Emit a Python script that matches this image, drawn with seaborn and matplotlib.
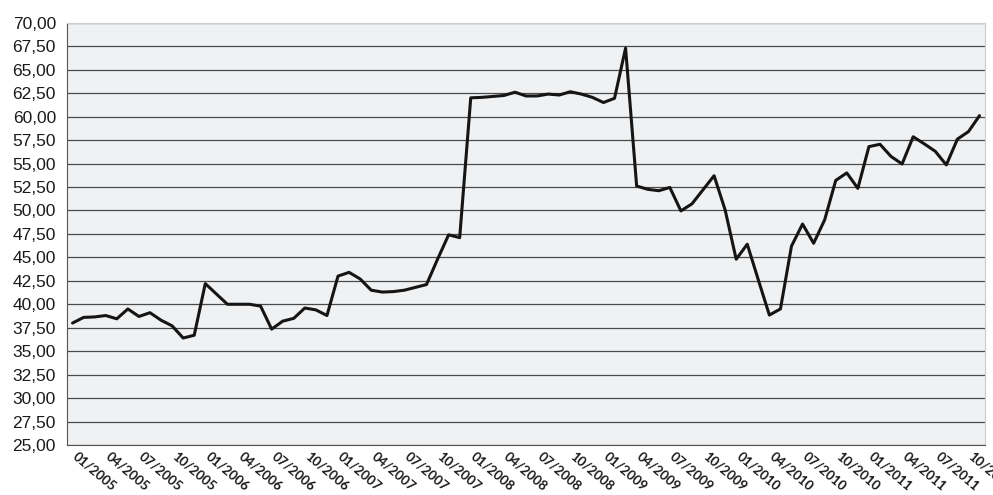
import pandas as pd
import matplotlib.pyplot as plt
import matplotlib.ticker as mticker
import matplotlib.transforms as mtransforms
import seaborn as sns

# Monthly values, 01/2005 .. 11/2011
months = [f"{m:02d}/{y}" for y in range(2005, 2012) for m in range(1, 13)][:83]
values = [38.0, 38.6, 38.65, 38.8, 38.45, 39.5, 38.7, 39.1, 38.3, 37.7,
          36.4, 36.7, 42.2, 41.1, 40.0, 40.0, 40.0, 39.8, 37.35, 38.2,
          38.5, 39.6, 39.4, 38.8, 43.0, 43.4, 42.7, 41.5, 41.3, 41.35,
          41.5, 41.8, 42.1, 44.8, 47.4, 47.1, 62.0, 62.05, 62.15, 62.25,
          62.6, 62.2, 62.2, 62.4, 62.3, 62.65, 62.4, 62.05, 61.5, 61.95,
          67.3, 52.6, 52.25, 52.1, 52.45, 49.95, 50.7, 52.2, 53.7, 50.05,
          44.8, 46.4, 42.6, 38.85, 39.5, 46.2, 48.55, 46.5, 49.0, 53.2,
          54.0, 52.35, 56.8, 57.05, 55.75, 54.95, 57.85, 57.1, 56.3, 54.85,
          57.6, 58.4, 60.1]
label_step = 3

df = pd.DataFrame({'idx': range(len(values)), 'month': months, 'value': values})

sns.set_style('white')
fig = plt.figure(figsize=(9.93, 4.95), dpi=100)
ax = fig.add_axes([0.0675, 0.101, 0.9245, 0.853])
ax.set_facecolor('#eff1f3')

ax.yaxis.grid(True, color='#4a4a4a', linewidth=0.9)
ax.set_axisbelow(True)

sns.lineplot(data=df, x='idx', y='value', ax=ax, color='#151515', linewidth=2.2)

ax.set_ylim(25, 70)
ax.set_yticks([25 + 2.5 * k for k in range(19)])
ax.yaxis.set_major_formatter(mticker.FuncFormatter(lambda v, p: f"{v:.2f}".replace('.', ',')))
ax.set_xlim(-0.5, len(values) - 0.5)

pos = list(range(0, len(values), label_step))
ax.set_xticks(pos)
ax.set_xticklabels([months[i] for i in pos])
ax.set_xticks([i - 0.5 for i in range(label_step, len(values), label_step)], minor=True)
ax.tick_params(axis='x', which='major', length=0, pad=7)
ax.tick_params(axis='x', which='minor', length=4, width=0.8, color='#555555', direction='out')
ax.tick_params(axis='y', length=4, width=0.8, color='#555555', direction='out', pad=4)
shift = mtransforms.ScaledTranslation(2 / 100, 0, fig.dpi_scale_trans)
for lab in ax.get_xticklabels():
    lab.set_rotation(-40)
    lab.set_ha('left')
    lab.set_va('center')
    lab.set_rotation_mode('anchor')
    lab.set_fontfamily('Lato')
    lab.set_fontweight('bold')
    lab.set_fontsize(9.5)
    lab.set_color('#1a1a1a')
    lab.set_transform(lab.get_transform() + shift)
for lab in ax.get_yticklabels():
    lab.set_fontfamily('Liberation Sans')
    lab.set_fontsize(12.5)
    lab.set_color('#1a1a1a')

ax.set_xlabel('')
ax.set_ylabel('')
ax.spines['left'].set_color('#555555')
ax.spines['bottom'].set_color('#555555')
ax.spines['top'].set_color('#cccccc')
ax.spines['right'].set_color('#cccccc')

plt.savefig('out.png')
plt.close()
